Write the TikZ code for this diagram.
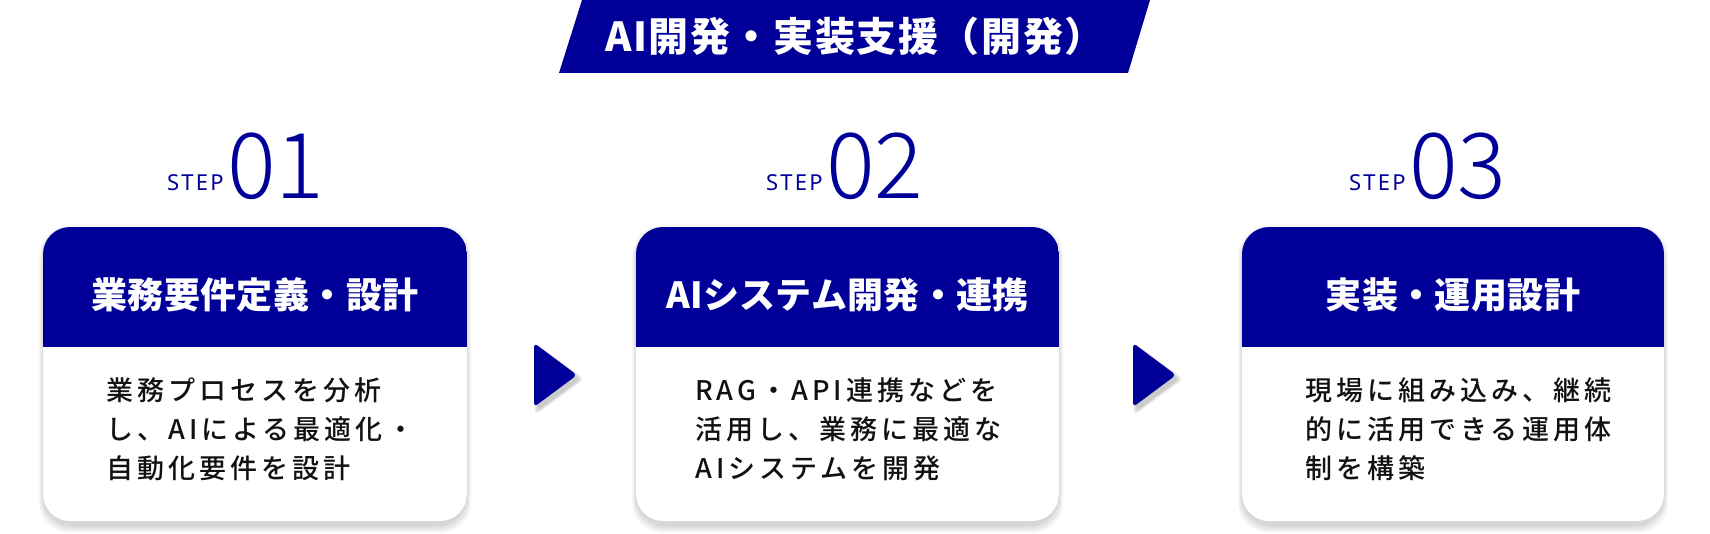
\documentclass[tikz,border=0pt]{standalone}
\usepackage{fontspec}
\setmainfont{Noto Sans CJK JP}
\IfFontExistsTF{Noto Sans CJK JP Medium}{%
  \newfontfamily\bodyfont[LetterSpace=15]{Noto Sans CJK JP Medium}}{%
  \newfontfamily\bodyfont[LetterSpace=15,FakeBold=0.6]{Noto Sans CJK JP}}
\newfontfamily\hdrfont[LetterSpace=1]{Noto Sans CJK JP}
\newfontfamily\bannerfont[LetterSpace=4]{Noto Sans CJK JP}
\newfontfamily\stepfont[LetterSpace=10]{Noto Sans}
\IfFontExistsTF{Noto Sans Light}{\newfontfamily\digitfont{Noto Sans Light}}{%
 \IfFontExistsTF{Noto Sans CJK JP Light}{\newfontfamily\digitfont{Noto Sans CJK JP Light}}{%
  \IfFontExistsTF{Lato Light}{\newfontfamily\digitfont{Lato Light}}{%
   \newfontfamily\digitfont{Noto Sans}}}}
\definecolor{brand}{HTML}{000099}
\definecolor{bodytext}{HTML}{111111}
\tikzset{
  bannertext/.style={text=white, inner sep=0pt, anchor=base, font=\bannerfont\bfseries\fontsize{40}{44}\selectfont},
  hdr/.style={text=white, inner sep=0pt, anchor=base, font=\hdrfont\bfseries\fontsize{36}{40}\selectfont},
  bodyline/.style={text=bodytext, inner sep=0pt, anchor=base west, font=\bodyfont\fontsize{27}{31}\selectfont},
  steplabel/.style={text=brand, inner sep=0pt, anchor=base west, font=\stepfont\bfseries\fontsize{22}{24}\selectfont},
  stepnum/.style={text=brand, inner sep=0pt, anchor=base west, font=\digitfont\fontsize{91}{95}\selectfont},
  shade/.style={black, opacity=0.02},
}
\newcommand\flowcard[8]{%
  \foreach \k in {0,...,7}{\fill[shade, rounded corners=30pt] ({#2-\k*0.6},{232-\k}) rectangle ({#3+\k*0.6},{526+\k});}
  \begin{scope}
    \clip[rounded corners=27pt] (#2,227) rectangle (#3,521);
    \fill[white] (#2,227) rectangle (#3,521);
    \fill[brand] (#2,227) rectangle (#3,347);
  \end{scope}
  \node[hdr] (#1h) at ({(#2+#3)/2},309) {#4};
  \node[bodyline] (#1a) at (#8,400.5) {#5};
  \node[bodyline] (#1b) at (#8,439.5) {#6};
  \node[bodyline] (#1c) at (#8,478.5) {#7};
}
\newcommand\flowarrow[3]{% #1 name, #2 left x, #3 centre y
  \foreach \k in {0,...,5}{\fill[shade, opacity=0.035, rounded corners=5pt] ({#2+3-\k*0.5},{#3+4-32-\k}) -- ({#2+3+43+\k},{#3+4}) -- ({#2+3-\k*0.5},{#3+4+32+\k}) -- cycle;}
  \fill[brand, rounded corners=4pt] (#2,{#3-32}) -- ({#2+43},#3) -- (#2,{#3+32}) -- cycle;
  \coordinate (#1) at ({#2+20},#3);
}
\begin{document}
\begin{tikzpicture}[x=1pt,y=-1pt]
\useasboundingbox (0,0) rectangle (1710,534);
\fill[white] (0,0) rectangle (1710,534);
% banner
\fill[brand] (559,73) -- (582,0) -- (1150,0) -- (1128,73) -- cycle;
\node[bannertext] (title) at (855,52) {AI開発・実装支援（開発）};
% step labels
\node[steplabel] (s1) at (167,191) {STEP};
\node[stepnum] (n1) at (227,199) {01};
\node[steplabel] (s2) at (766,191) {STEP};
\node[stepnum] (n2) at (826,199) {02};
\node[steplabel] (s3) at (1349,191) {STEP};
\node[stepnum] (n3) at (1409,199) {03};
% cards
\flowcard{c1}{43}{467}{業務要件定義・設計}{業務プロセスを分析}{し、AIによる最適化・}{自動化要件を設計}{106}
\flowcard{c2}{636}{1059}{AIシステム開発・連携}{RAG・API連携などを}{活用し、業務に最適な}{AIシステムを開発}{695}
\flowcard{c3}{1242}{1664}{実装・運用設計}{現場に組み込み、継続}{的に活用できる運用体}{制を構築}{1305}
% arrows
\flowarrow{a1}{534}{375}
\flowarrow{a2}{1133}{375}
\end{tikzpicture}
\end{document}
